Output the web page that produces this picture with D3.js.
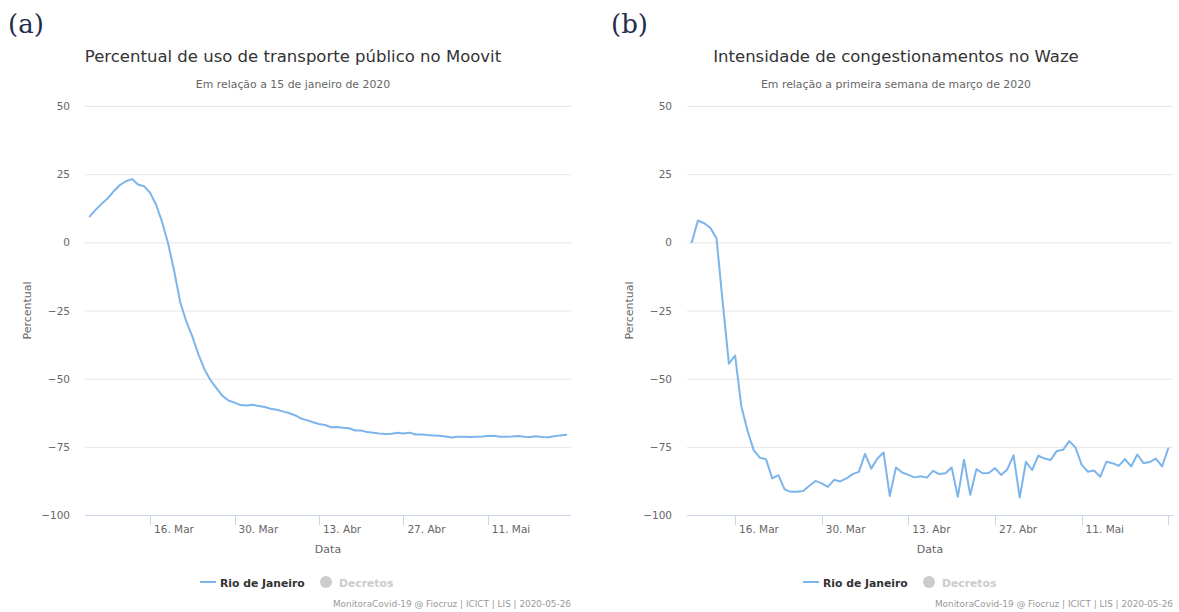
<!DOCTYPE html>
<html>
<head>
<meta charset="utf-8">
<script src="https://cdn.jsdelivr.net/npm/d3@7"></script>
<style>
  body { margin: 0; background: #fff; }
  svg { display: block; font-family: "DejaVu Sans", sans-serif; }
</style>
</head>
<body>
<div id="chart"></div>
<script>
// Moovit: % de uso de transporte público, diário desde 06/03/2020
const moovitStart = '2020-03-06'
const moovitValues = [
  9.5, 12, 14.2, 16.2, 18.8, 21, 22.4, 23.2, 21.2, 20.6,
  18.2, 13.8, 7.4, -0.5, -10.5, -22, -29, -34.5, -41, -46.5,
  -50.5, -53.5, -56.3, -58, -58.8, -59.7, -59.8, -59.6, -60, -60.4,
  -61, -61.4, -62, -62.6, -63.4, -64.6, -65.2, -66, -66.6, -67,
  -67.8, -67.7, -68, -68.2, -69, -69, -69.6, -69.8, -70.1, -70.3,
  -70.2, -69.8, -70.1, -69.8, -70.5, -70.5, -70.7, -70.8, -70.9, -71.2,
  -71.6, -71.3, -71.3, -71.4, -71.3, -71.2, -71, -70.9, -71.3, -71.3,
  -71.2, -71, -71.3, -71.4, -71.1, -71.4, -71.5, -71.1, -70.8, -70.6
]

// Waze: intensidade de congestionamentos, diário desde 09/03/2020
const wazeStart = '2020-03-09'
const wazeValues = [
  0, 8, 7, 5.3, 1.5, -22, -44.5, -41.5, -60, -69,
  -76.2, -79, -79.5, -86.6, -85.4, -90.6, -91.5, -91.5, -91.2, -89.3,
  -87.5, -88.4, -89.7, -87.1, -87.7, -86.6, -85, -84.2, -77.6, -83,
  -79.3, -77.1, -93, -82.6, -84.4, -85.3, -86.2, -85.8, -86.3, -83.8,
  -85, -84.7, -82.6, -93.3, -79.7, -92.6, -83.2, -84.7, -84.6, -82.8,
  -85.3, -83.2, -78.1, -93.6, -80.5, -83.5, -78.2, -79.3, -79.8, -76.5,
  -76.1, -72.9, -75.2, -81.5, -84.1, -83.7, -86, -80.5, -81, -82,
  -79.5, -82.2, -77.8, -81, -80.6, -79.3, -82.2, -75.6
]

const yTicks = [50, 25, 0, -25, -50, -75, -100]
const xTickDates = ['2020-03-16', '2020-03-30', '2020-04-13', '2020-04-27', '2020-05-11']
const xTickLabels = ['16. Mar', '30. Mar', '13. Abr', '27. Abr', '11. Mai']
const credit = 'MonitoraCovid-19 @ Fiocruz | ICICT | LIS | 2020-05-26'

const panels = [
  { tag: '(a)', title: 'Percentual de uso de transporte público no Moovit',
    subtitle: 'Em relação a 15 de janeiro de 2020',
    start: moovitStart, values: moovitValues, extraTick: false,
    tagX: 8, left: 85, right: 571, center: 293 },
  { tag: '(b)', title: 'Intensidade de congestionamentos no Waze',
    subtitle: 'Em relação a primeira semana de março de 2020',
    start: wazeStart, values: wazeValues, extraTick: true,
    tagX: 611, left: 687, right: 1173, center: 896 }
]

const width = 1179, height = 612
const plotTop = 106, plotBottom = 515
const parse = d3.utcParse('%Y-%m-%d')
const DAY = 864e5

const svg = d3.select('#chart').append('svg')
  .attr('width', width).attr('height', height)

panels.forEach(p => {
  const g = svg.append('g')
  const t0 = parse(p.start)
  const data = p.values.map((v, i) => ({ date: new Date(+t0 + i * DAY), value: v }))
  const t1 = data[data.length - 1].date
  const pad = (t1 - t0) * 0.01

  const x = d3.scaleUtc().domain([new Date(+t0 - pad), new Date(+t1 + pad)]).range([p.left, p.right])
  const y = d3.scaleLinear().domain([-100, 50]).range([plotBottom, plotTop])

  // tag (a)/(b)
  g.append('text')
    .attr('x', p.tagX).attr('y', 33)
    .style('font-family', '"DejaVu Serif", serif')
    .style('font-size', '26px').attr('fill', '#1f2d4d')
    .text(p.tag)

  g.append('text')
    .attr('x', p.center).attr('y', 62)
    .attr('text-anchor', 'middle')
    .style('font-size', '16.5px').attr('fill', '#333')
    .text(p.title)

  g.append('text')
    .attr('x', p.center).attr('y', 88)
    .attr('text-anchor', 'middle')
    .style('font-size', '10.9px').attr('fill', '#666')
    .text(p.subtitle)

  // grid + y labels
  g.selectAll('line.grid')
    .data(yTicks.filter(d => d !== -100))
    .join('line')
    .attr('x1', p.left).attr('x2', p.right)
    .attr('y1', d => y(d) + 0.5).attr('y2', d => y(d) + 0.5)
    .attr('stroke', '#e6e6e6')

  g.selectAll('text.ylab')
    .data(yTicks)
    .join('text')
    .attr('x', p.left - 15).attr('y', d => y(d) + 4)
    .attr('text-anchor', 'end')
    .style('font-size', '10.5px').attr('fill', '#666')
    .text(d => d < 0 ? '\u2212' + Math.abs(d) : d)

  g.append('text')
    .attr('transform', `translate(${p.left - 54},${(plotTop + plotBottom) / 2}) rotate(-90)`)
    .attr('text-anchor', 'middle')
    .style('font-size', '11px').attr('fill', '#666')
    .text('Percentual')

  // x axis
  g.append('line')
    .attr('x1', p.left).attr('x2', p.right)
    .attr('y1', plotBottom + 0.5).attr('y2', plotBottom + 0.5)
    .attr('stroke', '#ccd6eb')

  const tickDates = xTickDates.map(parse)
  if (p.extraTick) tickDates.push(d3.utcDay.offset(tickDates[tickDates.length - 1], 14))

  g.selectAll('line.tick')
    .data(tickDates)
    .join('line')
    .attr('x1', d => Math.round(x(d)) + 0.5).attr('x2', d => Math.round(x(d)) + 0.5)
    .attr('y1', plotBottom).attr('y2', plotBottom + 10)
    .attr('stroke', '#ccd6eb')

  g.selectAll('text.xlab')
    .data(xTickLabels)
    .join('text')
    .attr('x', (d, i) => x(tickDates[i]) + 4).attr('y', plotBottom + 18)
    .style('font-size', '10.5px').attr('fill', '#666')
    .text(d => d)

  g.append('text')
    .attr('x', (p.left + p.right) / 2).attr('y', plotBottom + 38)
    .attr('text-anchor', 'middle')
    .style('font-size', '11px').attr('fill', '#666')
    .text('Data')

  // series
  const line = d3.line().x(d => x(d.date)).y(d => y(d.value))
  g.append('path')
    .datum(data)
    .attr('d', line)
    .attr('fill', 'none')
    .attr('stroke', '#7cb5ec')
    .attr('stroke-width', 2)
    .attr('stroke-linejoin', 'round')
    .attr('stroke-linecap', 'round')

  // legend
  const lx = p.center - 93
  const ly = 582
  g.append('line')
    .attr('x1', lx).attr('x2', lx + 16)
    .attr('y1', ly).attr('y2', ly)
    .attr('stroke', '#7cb5ec').attr('stroke-width', 2)
  g.append('text')
    .attr('x', lx + 20).attr('y', ly + 4.5)
    .style('font-size', '10.8px').style('font-weight', 'bold').attr('fill', '#333')
    .text('Rio de Janeiro')
  g.append('circle')
    .attr('cx', lx + 126).attr('cy', ly).attr('r', 6)
    .attr('fill', '#cccccc')
  g.append('text')
    .attr('x', lx + 139).attr('y', ly + 4.5)
    .style('font-size', '10.8px').style('font-weight', 'bold').attr('fill', '#cccccc')
    .text('Decretos')

  g.append('text')
    .attr('x', p.right).attr('y', 607)
    .attr('text-anchor', 'end')
    .style('font-size', '8.9px').attr('fill', '#999')
    .text(credit)
})
</script>
</body>
</html>
